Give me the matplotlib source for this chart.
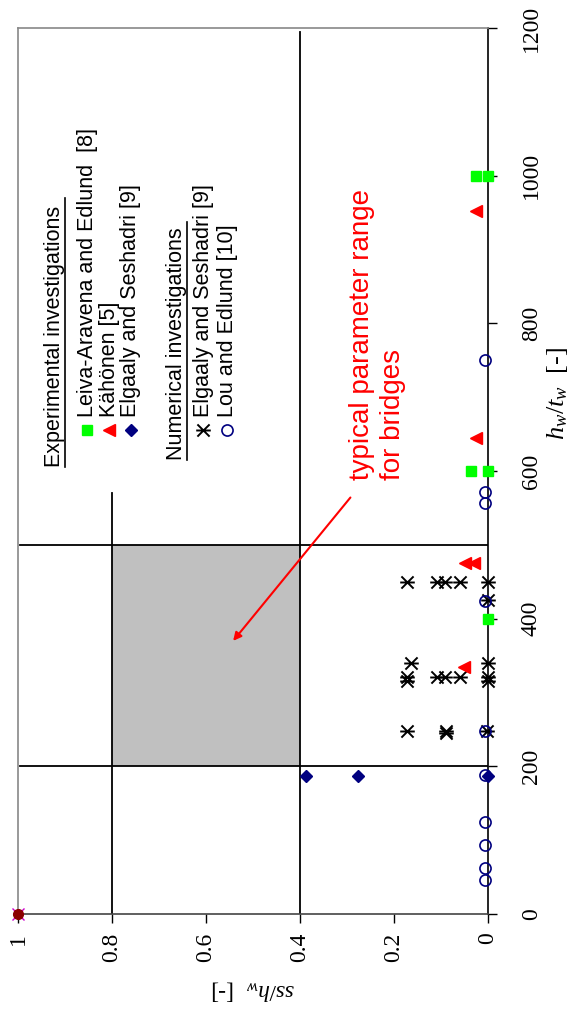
import matplotlib
matplotlib.use("Agg")
import matplotlib.pyplot as plt
from matplotlib.path import Path
from matplotlib.patches import Rectangle

serif = ["Liberation Serif", "DejaVu Serif"]
sans = ["Liberation Sans", "DejaVu Sans"]
plt.rcParams["font.family"] = serif
plt.rcParams["mathtext.fontset"] = "custom"
plt.rcParams["mathtext.rm"] = "Liberation Serif"
plt.rcParams["mathtext.it"] = "Liberation Serif:italic"

# web slenderness h_w/t_w against relative stiffener spacing ss/h_w
leiva_hw = [1000, 1000, 600, 600, 400]
leiva_ss = [0.025, 0.0, 0.036, 0.0, 0.0]

kahonen_hw = [952, 645, 476, 476, 334]
kahonen_ss = [0.025, 0.025, 0.049, 0.030, 0.052]

elgaaly_exp_hw = [187, 187, 187]
elgaaly_exp_ss = [0.388, 0.276, 0.0]

elgaaly_num_hw = [449, 449, 449, 449, 449, 425, 340, 340,
                  321, 321, 321, 321, 321, 316, 316, 248, 248, 248, 245]
elgaaly_num_ss = [0.173, 0.108, 0.091, 0.060, 0.0, 0.0, 0.164, 0.0,
                  0.173, 0.108, 0.091, 0.060, 0.0, 0.173, 0.0, 0.173, 0.090, 0.003, 0.090]

lou_hw = [750, 572, 556, 424, 248, 188, 124, 94, 62, 46]
lou_ss = [0.006, 0.006, 0.006, 0.006, 0.006, 0.006, 0.006, 0.006, 0.006, 0.006]

origin_hw = [0]
origin_ss = [1.0]

# typical range for bridges
bridge_hw = (200, 500)
bridge_ss = (0.4, 0.8)

ss_ticks = [1, 0.8, 0.6, 0.4, 0.2, 0]
ss_labels = ["1", "0.8", "0.6", "0.4", "0.2", "0"]
hw_ticks = [0, 200, 400, 600, 800, 1000, 1200]

# "X" with a bar through it, like the spreadsheet star marker turned on its side
star = Path([(-1, -1), (1, 1), (-1, 1), (1, -1), (-1.2, 0), (1.2, 0)],
            [Path.MOVETO, Path.LINETO] * 3)
star_style = dict(marker=star, ms=10.5, mew=1.4, color="black")
circle_style = dict(marker="o", ms=8, mfc="none", mec="#000080", mew=1.2)
square_style = dict(marker="s", ms=6.5, color="#00ff00")
triangle_style = dict(marker="<", ms=8, color="#ff0000")
diamond_style = dict(marker="D", ms=6, color="#000080")

fig = plt.figure(figsize=(5.71, 10.23), dpi=100)
ax = fig.add_axes([18 / 571, 109 / 1023, 470 / 571, 886 / 1023])
ax.set_xlim(1, 0)
ax.set_ylim(0, 1200)

ax.add_patch(Rectangle((bridge_ss[0], bridge_hw[0]), bridge_ss[1] - bridge_ss[0],
                       bridge_hw[1] - bridge_hw[0], facecolor="#c0c0c0",
                       edgecolor="none", zorder=1))
for hw in bridge_hw:
    ax.plot([0.995, 0.0], [hw, hw], color="black", lw=1.3, zorder=2)
ax.plot([0.4, 0.4], [0, 1195], color="black", lw=1.3, zorder=2)
ax.plot([0.8, 0.8], [0, 570], color="black", lw=1.3, zorder=2)

ax.plot(origin_ss, origin_hw, "x", color="#cc00cc", ms=8, mew=1, clip_on=False, zorder=5)
ax.plot(origin_ss, origin_hw, "o", color="#8b0000", ms=7, clip_on=False, zorder=6)

ax.plot(elgaaly_num_ss, elgaaly_num_hw, ls="none", clip_on=False, zorder=4, **star_style)
ax.plot(lou_ss, lou_hw, ls="none", clip_on=False, zorder=4, **circle_style)
ax.plot(leiva_ss, leiva_hw, ls="none", clip_on=False, zorder=5, **square_style)
ax.plot(kahonen_ss, kahonen_hw, ls="none", clip_on=False, zorder=5, **triangle_style)
ax.plot(elgaaly_exp_ss, elgaaly_exp_hw, ls="none", clip_on=False, zorder=5, **diamond_style)

# hand-placed legend, rotated with the rest of the chart
fs = 15.5
ax.text(0.923, 605, "Experimental investigations", rotation=90, ha="center",
        va="bottom", fontsize=fs, family=sans)
ax.plot([0.900, 0.900], [605, 970], color="black", lw=1.2)
entries = [
    (0.853, "Leiva-Aravena and Edlund  [8]", square_style),
    (0.806, "Kähönen [5]", triangle_style),
    (0.760, "Elgaaly and Seshadri [9]", diamond_style),
    (0.606, "Elgaaly and Seshadri [9]", star_style),
    (0.555, "Lou and Edlund [10]", circle_style),
]
for ss, label, style in entries:
    ax.plot([ss], [655], ls="none", **style)
    ax.text(ss, 673, label, rotation=90, ha="center", va="bottom", fontsize=fs, family=sans)
ax.text(0.662, 615, "Numerical investigations", rotation=90, ha="center",
        va="bottom", fontsize=fs, family=sans)
ax.plot([0.640, 0.640], [615, 937], color="black", lw=1.2)

ax.text(0.235, 588, "typical parameter range\nfor bridges", rotation=90,
        ha="center", va="bottom", ma="left", fontsize=20, color="red", family=sans,
        linespacing=1.25)
ax.annotate("", xy=(0.546, 367), xytext=(0.289, 567),
            arrowprops=dict(arrowstyle="-|>", color="red", lw=1.5, mutation_scale=12))

ax.yaxis.tick_right()
ax.set_yticks(hw_ticks)
ax.set_xticks(ss_ticks)
ax.set_xticklabels(ss_labels)
ax.tick_params(direction="out", length=6.5, width=1, labelsize=17)
ax.tick_params(axis="y", labelrotation=90, pad=17)
ax.tick_params(axis="x", labelrotation=90, pad=7)
for lbl in ax.get_yticklabels():
    lbl.set_va("center")
for lbl in ax.get_xticklabels() + ax.get_yticklabels():
    lbl.set_family(serif)

ax.set_xlabel(r"$ss/h_w$  [-]", fontsize=17, rotation=180, labelpad=12, family=serif)
fig.text(558 / 571, 1 - 393 / 1023, r"$h_w/t_w$  [-]", fontsize=19, rotation=90,
         ha="center", va="center", family=serif)

ax.spines["left"].set_color("#888888")
ax.spines["top"].set_color("#888888")
ax.spines["right"].set_color("black")
ax.spines["bottom"].set_color("#444444")
for s in ax.spines.values():
    s.set_linewidth(1.2)

fig.savefig("out.png", dpi=100)
